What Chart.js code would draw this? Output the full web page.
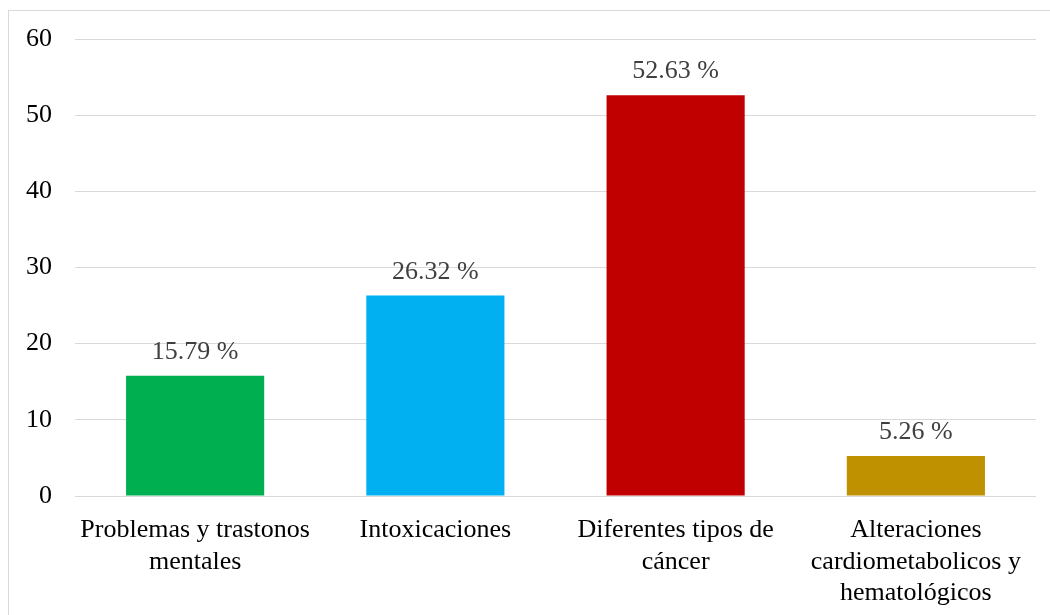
<!DOCTYPE html>
<html>
<head>
<meta charset="utf-8">
<script src="https://cdn.jsdelivr.net/npm/chart.js@4.4.1/dist/chart.umd.min.js"></script>
<style>
  html, body { margin: 0; padding: 0; background: #fff; overflow: hidden; }
  #frame { position: absolute; left: 8px; top: 10px; width: 1100px; height: 700px; border: 1px solid #d9d9d9; }
  #wrap { position: absolute; left: 0; top: 0; width: 1050px; height: 615px; }
</style>
</head>
<body>
<div id="frame"></div>
<div id="wrap"><canvas id="grafico"></canvas></div>
<script>
// dados
const categorias = [
  ['Problemas y trastonos', 'mentales'],
  'Intoxicaciones',
  ['Diferentes tipos de', 'cáncer'],
  ['Alteraciones', 'cardiometabolicos y', 'hematológicos']
];
const valores = [15.79, 26.32, 52.63, 5.26];
const cores = ['#00b050', '#00b0f0', '#c00000', '#bf9000'];
const ticksY = [0, 10, 20, 30, 40, 50, 60];

const fonte = '"Liberation Serif", "Times New Roman", serif';

// rotulos em cima das barras (sem o plugin datalabels)
const rotulos = {
  id: 'rotulos',
  afterDatasetsDraw(chart) {
    const ctx = chart.ctx;
    const meta = chart.getDatasetMeta(0);
    ctx.save();
    ctx.font = '26px ' + fonte;
    ctx.fillStyle = '#404040';
    ctx.textAlign = 'center';
    ctx.textBaseline = 'alphabetic';
    meta.data.forEach((bar, i) => {
      ctx.fillText(valores[i].toFixed(2) + ' %', bar.x, bar.y - 17);
    });
    ctx.restore();
  }
};

const config = {
  type: 'bar',
  data: {
    labels: categorias,
    datasets: [{
      data: valores,
      backgroundColor: cores,
      barPercentage: 0.575,
      categoryPercentage: 1
    }]
  },
  options: {
    responsive: true,
    maintainAspectRatio: false,
    animation: false,
    layout: { padding: { top: 39, right: 14, left: 0, bottom: 0 } },
    plugins: {
      legend: { display: false },
      tooltip: { enabled: false }
    },
    scales: {
      x: {
        grid: { display: false },
        border: { display: false },
        ticks: {
          color: '#000',
          padding: 11,
          maxRotation: 0,
          autoSkip: false,
          font: { family: fonte, size: 26, lineHeight: 1.2 }
        },
        afterFit: (scale) => { scale.height = 119; }
      },
      y: {
        min: 0,
        max: 60,
        afterBuildTicks: (scale) => { scale.ticks = ticksY.map(v => ({ value: v })); },
        grid: { color: '#d9d9d9', lineWidth: 1, drawTicks: false },
        border: { display: false },
        ticks: {
          color: '#000',
          padding: 23,
          font: { family: fonte, size: 26 }
        },
        afterFit: (scale) => { scale.width = 75; }
      }
    }
  },
  plugins: [rotulos]
};

const grafico = new Chart(document.getElementById('grafico'), config);
</script>
</body>
</html>
